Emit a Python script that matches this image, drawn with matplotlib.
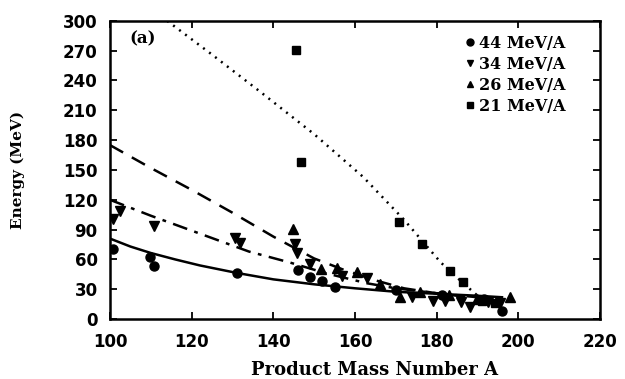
import matplotlib
matplotlib.use("Agg")
import matplotlib.pyplot as plt
from matplotlib.lines import Line2D

# Measured product energies (MeV) versus product mass number A
circ_A = [100.7, 109.8, 110.8, 131.1, 146.0, 149.0, 151.9, 155.1, 170.0, 181.3, 191.5, 196.0]
circ_E = [70.6, 62.9, 53.8, 46.2, 49.0, 42.7, 38.5, 32.2, 29.0, 24.0, 20.0, 8.0]

inv_A = [100.7, 102.4, 110.8, 130.6, 131.8, 145.3, 145.8, 149.0, 156.8,
         163.0, 174.0, 179.0, 182.0, 186.0, 188.2, 192.5, 195.5]
inv_E = [100.6, 108.5, 93.8, 82.0, 77.0, 76.0, 67.0, 55.7, 43.0,
         41.0, 22.0, 18.5, 18.0, 17.0, 12.6, 17.0, 16.0]

up_A = [144.8, 151.7, 155.6, 160.5, 166.1, 171.0, 176.0, 183.0, 190.0, 198.0]
up_E = [91.0, 50.5, 51.0, 47.8, 35.4, 22.0, 27.0, 24.0, 20.0, 21.8]

sq_A = [145.6, 146.8, 170.8, 176.4, 183.3, 186.5, 191.1, 194.3]
sq_E = [271.0, 158.0, 98.0, 75.5, 48.0, 37.7, 18.6, 16.5]

# Model curves for each beam energy
solid_A = [100, 105, 110, 116, 122, 131, 140, 150, 160, 170, 180, 190, 196]
solid_E = [81, 73, 66.5, 60, 54, 46.5, 40, 35, 31, 27.5, 25.5, 23.5, 22]

dashdot_A = [100, 110, 122, 134, 144, 153, 163, 170, 180, 190, 196]
dashdot_E = [120, 104, 86, 68, 57, 46, 36, 31, 26, 22, 20]

dashed_A = [100, 110, 120, 130, 140, 150, 157, 165, 172, 180, 190]
dashed_E = [175, 152, 130, 107, 83, 61, 50, 39, 31, 26, 21]

dotted_A = [114, 125, 137, 150, 162, 172, 181, 186, 191]
dotted_E = [300, 266, 228, 186, 143, 100, 57, 38, 20]

legend_labels = ["44 MeV/A", "34 MeV/A", "26 MeV/A", "21 MeV/A"]
x_ticks = [100, 120, 140, 160, 180, 200, 220]
y_ticks = [0, 30, 60, 90, 120, 150, 180, 210, 240, 270, 300]

fig = plt.figure(figsize=(6.25, 3.79), dpi=100)
ax = fig.add_axes([0.176, 0.158, 0.784, 0.787])

ink = "black"
ax.plot(solid_A, solid_E, color=ink, lw=1.8, ls="-")
ax.plot(dashdot_A, dashdot_E, color=ink, lw=1.8, ls=(0, (6, 3, 1.5, 3)))
ax.plot(dashed_A, dashed_E, color=ink, lw=1.8, ls=(0, (6, 4)))
ax.plot(dotted_A, dotted_E, color=ink, lw=1.8, ls=(0, (0.8, 2.2)))

ms = 6.5
ax.plot(circ_A, circ_E, "o", color=ink, ms=ms, ls="none")
ax.plot(inv_A, inv_E, "v", color=ink, ms=ms, ls="none")
ax.plot(up_A, up_E, "^", color=ink, ms=ms, ls="none")
ax.plot(sq_A, sq_E, "s", color=ink, ms=ms - 0.5, ls="none")

ax.set_xlim(100, 220)
ax.set_ylim(0, 300)
ax.set_xticks(x_ticks)
ax.set_yticks(y_ticks)

tick_font = dict(family="DejaVu Sans", weight="bold", size=12)
ax.set_xticklabels([str(v) for v in x_ticks], **tick_font)
ax.set_yticklabels([str(v) for v in y_ticks], **tick_font)
ax.tick_params(direction="in", length=5, width=1.3, top=True, right=True,
               labeltop=False, labelright=False, colors=ink)
ax.tick_params(axis="x", pad=10)
ax.tick_params(axis="y", pad=9)
for sp in ax.spines.values():
    sp.set_linewidth(1.8)
    sp.set_color(ink)

ax.set_xlabel("Product Mass Number A", family="DejaVu Serif", weight="bold", size=13)
ax.set_ylabel("Energy (MeV)", family="DejaVu Serif", weight="bold", size=11)
ax.xaxis.set_label_coords(0.54, -0.14)
ax.yaxis.set_label_coords(-0.173, 0.5)

ax.text(0.067, 0.94, "(a)", transform=ax.transAxes, ha="center", va="center",
        family="DejaVu Serif", weight="bold", size=12)

handles = [
    Line2D([], [], marker="o", color=ink, ls="none", ms=5),
    Line2D([], [], marker="v", color=ink, ls="none", ms=5),
    Line2D([], [], marker="^", color=ink, ls="none", ms=5),
    Line2D([], [], marker="s", color=ink, ls="none", ms=4.5),
]
ax.legend(handles, legend_labels, loc="upper right", bbox_to_anchor=(0.95, 0.985),
          frameon=False, handlelength=0.6, handletextpad=0.3, labelspacing=0.25,
          borderaxespad=0.2, prop=dict(family="DejaVu Serif", weight="bold", size=11.5))

fig.savefig("out.png", dpi=100)
